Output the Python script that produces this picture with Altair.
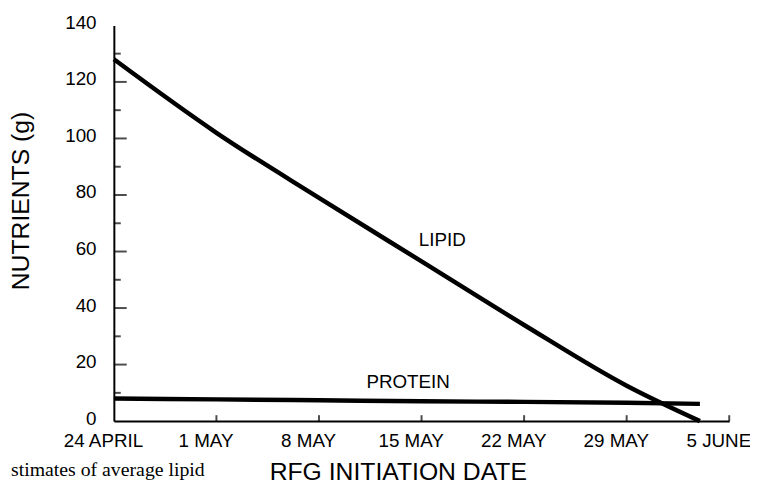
import altair as alt
import pandas as pd

# ---- data ----
line_dates = ["1990-04-24", "1990-05-01", "1990-05-08", "1990-05-15",
              "1990-05-22", "1990-05-29", "1990-06-03"]
lipid = [128, 102, 79, 56.5, 34, 12.5, 0]
protein = [8, 7.7, 7.4, 7.0, 6.8, 6.5, 6.1]

tick_dates = ["1990-04-24", "1990-05-01", "1990-05-08", "1990-05-15",
              "1990-05-22", "1990-05-29", "1990-06-05"]
tick_labels = ["24 APRIL", "1 MAY", "8 MAY", "15 MAY", "22 MAY", "29 MAY", "5 JUNE"]

y_values = [0, 20, 40, 60, 80, 100, 120, 140]
y_major = [20, 40, 60, 80, 100, 120]
y_minor = [10, 30, 50, 70, 90, 110, 130]

label_text = ["LIPID", "PROTEIN"]
label_dates = ["1990-05-16T10:00:00Z", "1990-05-14T02:00:00Z"]
label_values = [64, 13.8]

caption = "stimates of average lipid"

FONT = "Liberation Sans"


def ms(d):
    return int(pd.Timestamp(d, tz="UTC").value // 10**6)


x_domain = [ms(tick_dates[0]), ms(tick_dates[-1])]
tick_ms = [ms(d) for d in tick_dates]
label_map = ", ".join("'%s': '%s'" % (d, l) for d, l in zip(tick_dates, tick_labels))
label_expr = "{%s}[utcFormat(datum.value, '%%Y-%%m-%%d')]" % label_map

lines_df = pd.DataFrame({
    "date": line_dates * 2,
    "value": lipid + protein,
    "series": ["LIPID"] * len(lipid) + ["PROTEIN"] * len(protein),
})
labels_df = pd.DataFrame({"date": label_dates, "value": label_values, "text": label_text})
xt_df = pd.DataFrame({"date": tick_dates[1:]})
ymaj_df = pd.DataFrame({"value": y_major, "date": tick_dates[0]})
ymin_df = pd.DataFrame({"value": y_minor, "date": tick_dates[0]})
cap_df = pd.DataFrame({"t": [caption]})

x_scale = alt.Scale(type="utc", domain=x_domain, nice=False)
y_scale = alt.Scale(domain=[0, 140], nice=False, zero=False)

x_axis = alt.Axis(
    values=tick_ms, labelExpr=label_expr, ticks=False, tickSize=0, grid=False,
    domainColor="black", domainWidth=2, labelFont=FONT, labelFontSize=19,
    labelColor="black", labelPadding=11, labelOffset=-11, labelFlush=False,
    labelOverlap=False, labelBound=False,
    title="RFG INITIATION DATE", titleFont=FONT, titleFontSize=25,
    titleFontWeight="normal", titleColor="black", titleX=287, titleY=59,
    titleAlign="center", titleBaseline="alphabetic",
)
y_axis = alt.Axis(
    values=y_values, ticks=False, tickSize=0, grid=False,
    domainColor="black", domainWidth=2, labelFont=FONT, labelFontSize=19,
    labelColor="black", labelPadding=18, labelOffset=-3, labelFlush=False,
    labelOverlap=False,
    title="NUTRIENTS (g)", titleFont=FONT, titleFontSize=25,
    titleFontWeight="normal", titleColor="black", titleX=-94, titleY=177,
    titleAlign="center", titleBaseline="middle", titleAngle=270,
)

X = alt.X("date:T", scale=x_scale, axis=x_axis)
Y = alt.Y("value:Q", scale=y_scale, axis=y_axis)

lines = alt.Chart(lines_df).mark_line(
    color="black", strokeWidth=4.5, interpolate="monotone", strokeCap="butt"
).encode(x=X, y=Y, detail="series:N")

labels = alt.Chart(labels_df).mark_text(
    font=FONT, fontSize=19, color="black", align="center", baseline="middle"
).encode(x=X, y=Y, text="text:N")

x_ticks = alt.Chart(xt_df).mark_tick(
    orient="vertical", size=6, thickness=2, color="black", yOffset=-3
).encode(x=X, y=alt.datum(0))

y_ticks_major = alt.Chart(ymaj_df).mark_tick(
    orient="horizontal", size=13, thickness=2, color="black", xOffset=6.5
).encode(x=X, y=Y)

y_ticks_minor = alt.Chart(ymin_df).mark_tick(
    orient="horizontal", size=7, thickness=2, color="black", xOffset=3.5
).encode(x=X, y=Y)

cap = alt.Chart(cap_df).mark_text(
    font="Liberation Serif", fontSize=20, color="black", align="left",
    baseline="alphabetic"
).encode(text="t:N", x=alt.value(-104), y=alt.value(455))

chart = alt.layer(
    lines, labels, x_ticks, y_ticks_major, y_ticks_minor, cap
).properties(
    width=622, height=400,
    autosize=alt.AutoSizeParams(type="none"),
    padding={"left": 107, "top": 15, "right": 21, "bottom": 62},
    background="white",
).configure_view(stroke=None)

chart.save("out.html", embed_options={"renderer": "svg", "actions": False})
